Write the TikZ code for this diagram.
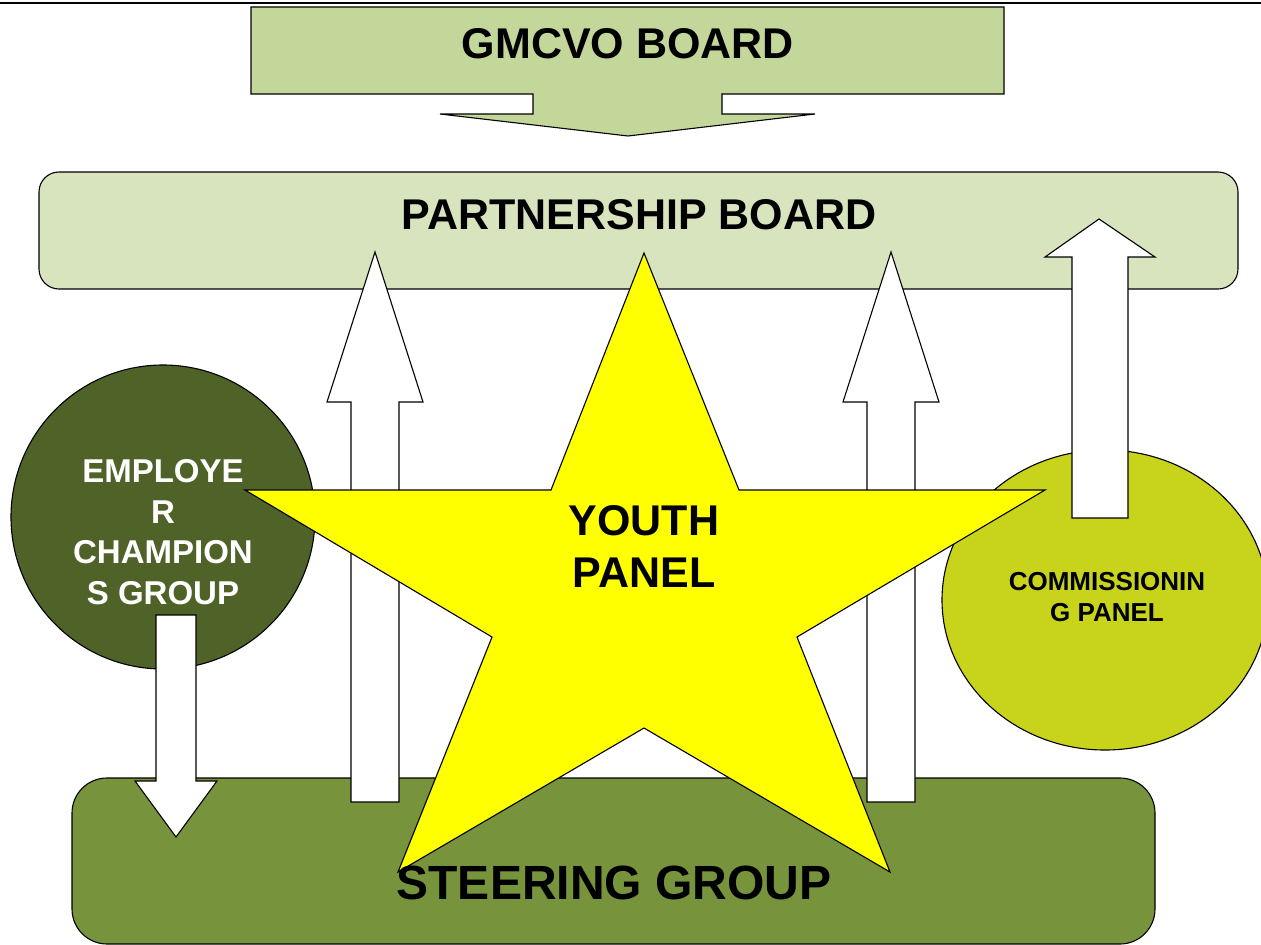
\documentclass[tikz,border=0pt]{standalone}
\usepackage{fontspec}
\setmainfont{Liberation Sans}
\usepackage{tikz}

\definecolor{gmcvogreen}{HTML}{C4D79B}
\definecolor{partnergreen}{HTML}{D7E4BD}
\definecolor{steergreen}{HTML}{77933C}
\definecolor{employergreen}{HTML}{4F6228}
\definecolor{commissiongreen}{HTML}{C8D41B}
\definecolor{staryellow}{HTML}{FFFF00}

\begin{document}
\begin{tikzpicture}[x=1pt, y=-1pt, line width=1.1pt,
    bigtext/.style={font=\bfseries\fontsize{43}{52}\selectfont, inner sep=0pt},
    blockarrow/.style={draw=black, fill=white}]
\useasboundingbox (0,0) rectangle (1261,945);
\draw[line width=1.2pt] (0,3) -- (1261,3);

% top board with its arrow
\draw[fill=gmcvogreen] (251,7) -- (1004,7) -- (1004,94) -- (722,94) -- (722,114) -- (815,114)
    -- (628,136) -- (440,114) -- (533,114) -- (533,94) -- (251,94) -- cycle;
\node[bigtext] (gmcvo) at (628,44) {GMCVO BOARD};

\draw[fill=partnergreen, rounded corners=20] (39,172) rectangle (1238,289);
\node[bigtext] (partner) at (639,215) {PARTNERSHIP BOARD};

\draw[fill=steergreen, rounded corners=35] (72,778) rectangle (1155,944);

\draw[fill=employergreen] (163,517) circle (152);
\draw[fill=commissiongreen] (1105,600) ellipse (163 and 150);

% arrows
\foreach \x in {375, 891}
    \draw[blockarrow] (\x-24,802) -- (\x-24,402) -- (\x-48,402) -- (\x,252)
        -- (\x+48,402) -- (\x+24,402) -- (\x+24,802) -- cycle;
\draw[blockarrow] (1072,518) -- (1072,257) -- (1045,257) -- (1099,219)
    -- (1155,257) -- (1128,257) -- (1128,518) -- cycle;
\draw[blockarrow] (156,615) -- (156,781) -- (135,781) -- (176,837)
    -- (217,781) -- (196,781) -- (196,615) -- cycle;

\node[font=\bfseries\fontsize{33}{40.7}\selectfont, text=white, align=center, inner sep=0pt]
    (employer) at (163,532) {EMPLOYE\\R\\CHAMPION\\S GROUP};
\node[font=\bfseries\fontsize{26}{31}\selectfont, align=center, inner sep=0pt]
    (commission) at (1107,597) {COMMISSIONIN\\G PANEL};

% star
\draw[fill=staryellow] (644,253) -- (739,490) -- (1045,490) -- (797,637) -- (890,872)
    -- (644,728) -- (398,872) -- (492,637) -- (245,490) -- (551,490) -- cycle;
\node[bigtext, align=center] (youth) at (644,546) {YOUTH\\PANEL};

\node[font=\bfseries\fontsize{48}{56}\selectfont, inner sep=0pt] (steering) at (614,883) {STEERING GROUP};
\end{tikzpicture}
\end{document}
